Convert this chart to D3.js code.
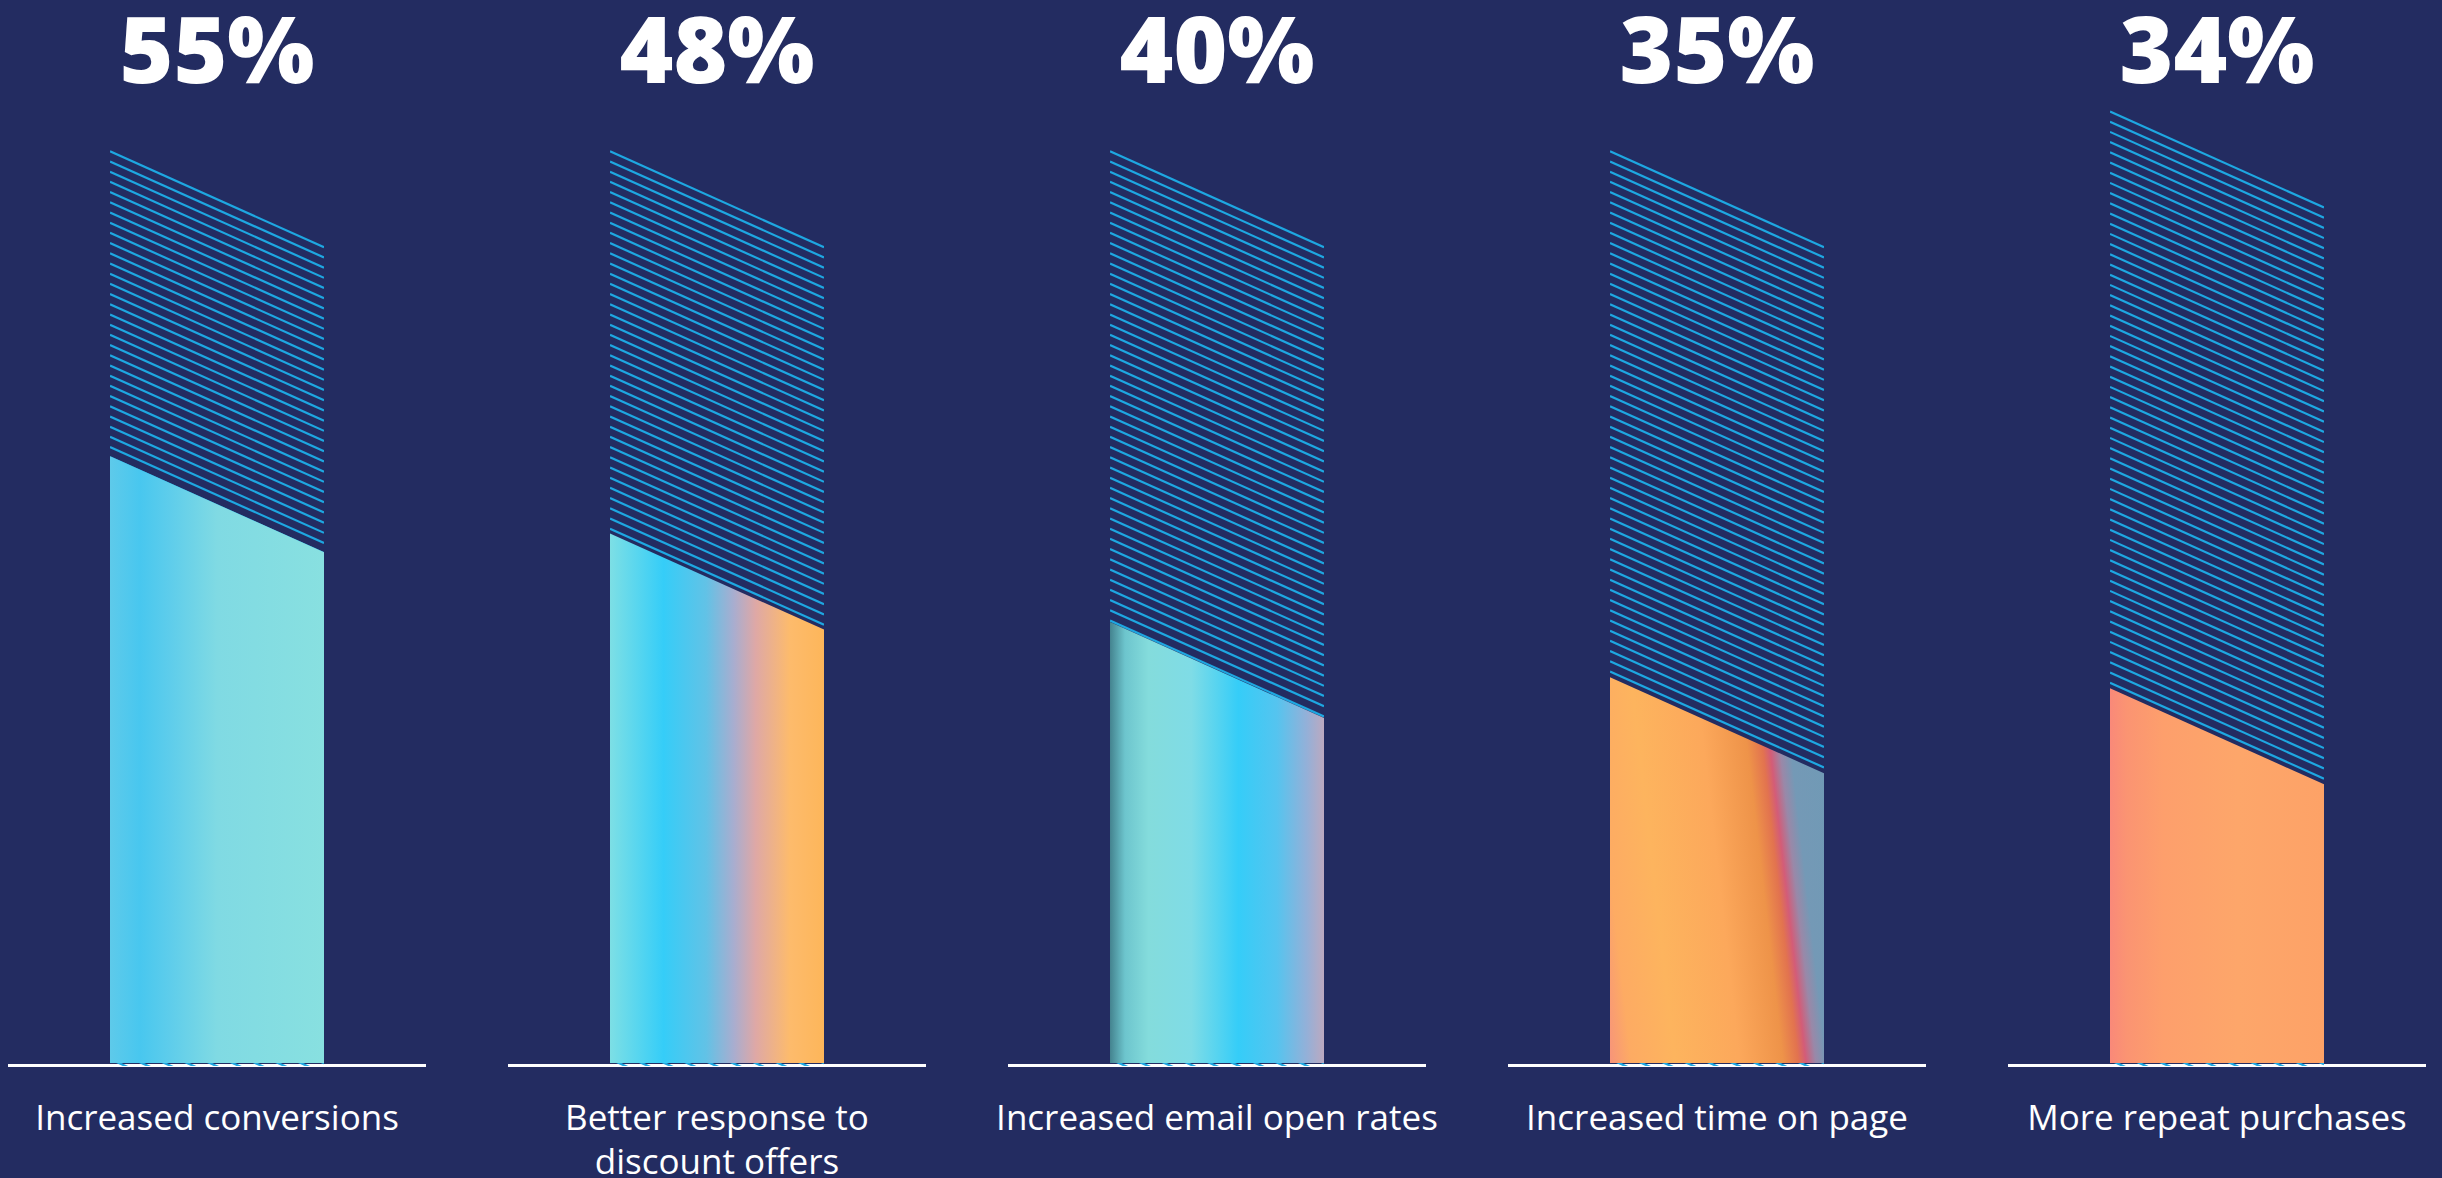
<!DOCTYPE html>
<meta charset="utf-8">
<style>

body {
  margin: 0;
  background: #232c61;
}

.pct {
  font: 800 92px "Open Sans", sans-serif;
  fill: #fff;
}

.label {
  font: 400 35px "Open Sans", sans-serif;
  fill: #fff;
}

.hatch line {
  stroke: #1ea7e1;
  stroke-width: 2.2;
}

</style>
<body>
<script src="https://cdn.jsdelivr.net/npm/d3@7"></script>
<script>

// values
const categories = ["conv", "discount", "email", "time", "repeat"];
const percents = [55, 48, 40, 35, 34];
const labels = [
  ["Increased conversions"],
  ["Better response to", "discount offers"],
  ["Increased email open rates"],
  ["Increased time on page"],
  ["More repeat purchases"]
];
// top of the striped track behind each bar, in the same % units
const trackTops = [82.6, 82.6, 82.6, 82.6, 86.2];

const width = 2442,
    height = 1178,
    baseY = 1064,
    barW = 214,
    slant = 96,     // drop of the bar top across the bar
    gap = 10.2;     // spacing of the stripes

const svg = d3.select("body").append("svg")
    .attr("width", width)
    .attr("height", height);

svg.append("rect")
    .attr("width", width)
    .attr("height", height)
    .attr("fill", "#232c61");

const x = d3.scalePoint()
    .domain(categories)
    .range([217, 2217]);

const y = d3.scaleLinear()
    .domain([0, 100])
    .range([baseY, baseY - 1105]);

// gradient stops for each bar, left to right
const stops = [
  [[0, "#5ecaea"], [0.14, "#48c7ef"], [0.28, "#5ecdeb"], [0.5, "#80dae3"], [1, "#88e0e0"]],
  [[0, "#7ddfe5"], [0.25, "#35cdf8"], [0.45, "#62c2e6"], [0.58, "#a9adcf"], [0.68, "#dea8a6"], [0.84, "#fdbb6c"], [1, "#fdb65a"]],
  [[0, "#44838f"], [0.07, "#6dc5cd"], [0.18, "#84dcdc"], [0.38, "#7fdce6"], [0.6, "#35cdf8"], [0.78, "#55c4ef"], [0.92, "#94b0d8"], [1, "#bca9c0"]],
  [[0, "#f7947a"], [0.1, "#fdab63"], [0.3, "#fdb45e"], [0.6, "#fca85b"], [0.8, "#ee9349"], [0.87, "#e2734f"], [0.905, "#d35c78"], [0.95, "#9a88a8"], [1, "#7499b6"], [1.2, "#6f9ab5"]],
  [[0, "#f98979"], [0.08, "#fb9472"], [0.25, "#fd9f6c"], [0.6, "#fda66a"], [1, "#fda267"]]
];

const defs = svg.append("defs");

categories.forEach((c, i) => {
  const x0 = x(c) - barW / 2;
  const s = stops[i], last = s[s.length - 1][0];
  // the fourth bar has a slanted stripe, so its gradient runs at an angle
  const tilt = i === 3 ? 0.114 : 0;
  defs.append("linearGradient")
      .attr("id", "grad-" + i)
      .attr("gradientUnits", "userSpaceOnUse")
      .attr("x1", x0)
      .attr("y1", baseY)
      .attr("x2", x0 + barW * last)
      .attr("y2", baseY - barW * tilt * last)
    .selectAll("stop")
    .data(s)
    .join("stop")
      .attr("offset", d => d[0] / last)
      .attr("stop-color", d => d[1]);

  defs.append("clipPath")
      .attr("id", "clip-" + i)
    .append("rect")
      .attr("x", x0)
      .attr("y", 0)
      .attr("width", barW)
      .attr("height", baseY + 2);
});

const group = svg.selectAll("g.group")
  .data(categories)
  .join("g")
    .attr("class", "group");

// baseline
group.append("line")
    .attr("x1", d => x(d) - 209)
    .attr("x2", d => x(d) + 209)
    .attr("y1", baseY + 1.5)
    .attr("y2", baseY + 1.5)
    .attr("stroke", "#fff")
    .attr("stroke-width", 3);

// striped track
group.append("g")
    .attr("class", "hatch")
    .attr("clip-path", (d, i) => `url(#clip-${i})`)
  .selectAll("line")
  .data((d, i) => {
    const top = y(trackTops[i]);
    return d3.range(top, baseY + 2, gap).map(v => ({c: d, y0: v}));
  })
  .join("line")
    .attr("x1", d => x(d.c) - barW / 2)
    .attr("x2", d => x(d.c) + barW / 2)
    .attr("y1", d => d.y0)
    .attr("y2", d => d.y0 + slant);

// filled bar
group.append("path")
    .attr("fill", (d, i) => `url(#grad-${i})`)
    .attr("d", (d, i) => {
      const x0 = x(d) - barW / 2, x1 = x(d) + barW / 2, top = y(percents[i]);
      return `M${x0},${top}L${x1},${top + slant}L${x1},${baseY - 1}L${x0},${baseY - 1}Z`;
    });

group.append("text")
    .attr("class", "pct")
    .attr("x", d => x(d))
    .attr("y", 83)
    .attr("text-anchor", "middle")
    .text((d, i) => percents[i] + "%");

group.append("text")
    .attr("class", "label")
    .attr("text-anchor", "middle")
  .selectAll("tspan")
  .data((d, i) => labels[i].map(t => ({c: d, t})))
  .join("tspan")
    .attr("x", d => x(d.c))
    .attr("y", (d, j) => 1130 + j * 44)
    .text(d => d.t);

</script>
